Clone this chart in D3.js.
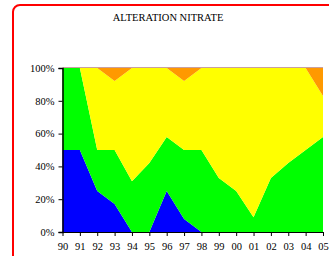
<!DOCTYPE html>
<html lang="en">
<head>
    <meta charset="UTF-8">
    <script src="https://cdn.jsdelivr.net/npm/d3@7"></script>
    <style>
        body{margin:0;background:#fff;}
        svg text{font-family:"Liberation Serif","Times New Roman",serif;fill:#000;}
    </style>
    <title>Alteration nitrate</title>
</head>
<body>
    <script>
        // years and percentage share of each class (stacked to 100)
        var years = ["90","91","92","93","94","95","96","97","98","99","00","01","02","03","04","05"];
        var blue   = [50,50,25,17,0,0,25,8,0,0,0,0,0,0,0,0];
        var green  = [50,50,25,33,31,42,33,42,50,33,25,9,33,42,50,58];
        var yellow = [0,0,50,42,69,58,42,42,50,67,75,91,67,58,50,25];
        var orange = [0,0,0,8,0,0,0,8,0,0,0,0,0,0,0,17];
        var yTicks = [0,20,40,60,80,100];

        var W = 329, H = 256;
        var svg = d3.select("body").append("svg")
            .attr("width",W).attr("height",H);

        // red rounded frame
        svg.append("rect")
            .attr("x",13).attr("y",5)
            .attr("width",340).attr("height",270)
            .attr("rx",7)
            .attr("fill","none").attr("stroke","#ff0000").attr("stroke-width",2);

        svg.append("text")
            .attr("x",168).attr("y",21)
            .attr("text-anchor","middle")
            .style("font-size","10.5px")
            .text("ALTERATION NITRATE");

        var x = d3.scalePoint().domain(years).range([62.5,323]);
        var y = d3.scaleLinear().domain([0,100]).range([232,68]);

        var rows = years.map(function(d,i){
            return {year:d, blue:blue[i], green:green[i], yellow:yellow[i], orange:orange[i]};
        });
        var keys = ["blue","green","yellow","orange"];
        var colors = {blue:"#0000ff", green:"#00ff00", yellow:"#ffff00", orange:"#ff9900"};
        var stack = d3.stack().keys(keys)(rows);

        var area = d3.area()
            .x(function(d){ return x(d.data.year); })
            .y0(function(d){ return y(d[0]); })
            .y1(function(d){ return y(d[1]); });

        svg.selectAll("path.layer")
            .data(stack)
            .enter()
            .append("path")
            .attr("class","layer")
            .attr("d",area)
            .attr("fill",function(d){ return colors[d.key]; });

        // thin top border line
        svg.append("line")
            .attr("x1",x("90")).attr("x2",x("05"))
            .attr("y1",y(100)-0.5).attr("y2",y(100)-0.5)
            .attr("stroke","#c8a0a0").attr("stroke-width",1);

        var yAxis = d3.axisLeft(y).tickValues(yTicks)
            .tickSize(4).tickFormat(function(d){ return d+"%"; });
        var gy = svg.append("g")
            .attr("transform","translate(62.5,0)")
            .call(yAxis);
        gy.select(".domain").attr("stroke","#000").attr("stroke-width",1.5);
        gy.selectAll("text").style("font-size","10.5px").attr("x",-8);

        var xAxis = d3.axisBottom(x).tickSize(4).tickSizeOuter(0);
        var gx = svg.append("g")
            .attr("transform","translate(0,232)")
            .call(xAxis);
        gx.select(".domain").attr("stroke","#000");
        gx.selectAll("text").style("font-size","10.5px").attr("y",11);
    </script>
</body>
</html>
